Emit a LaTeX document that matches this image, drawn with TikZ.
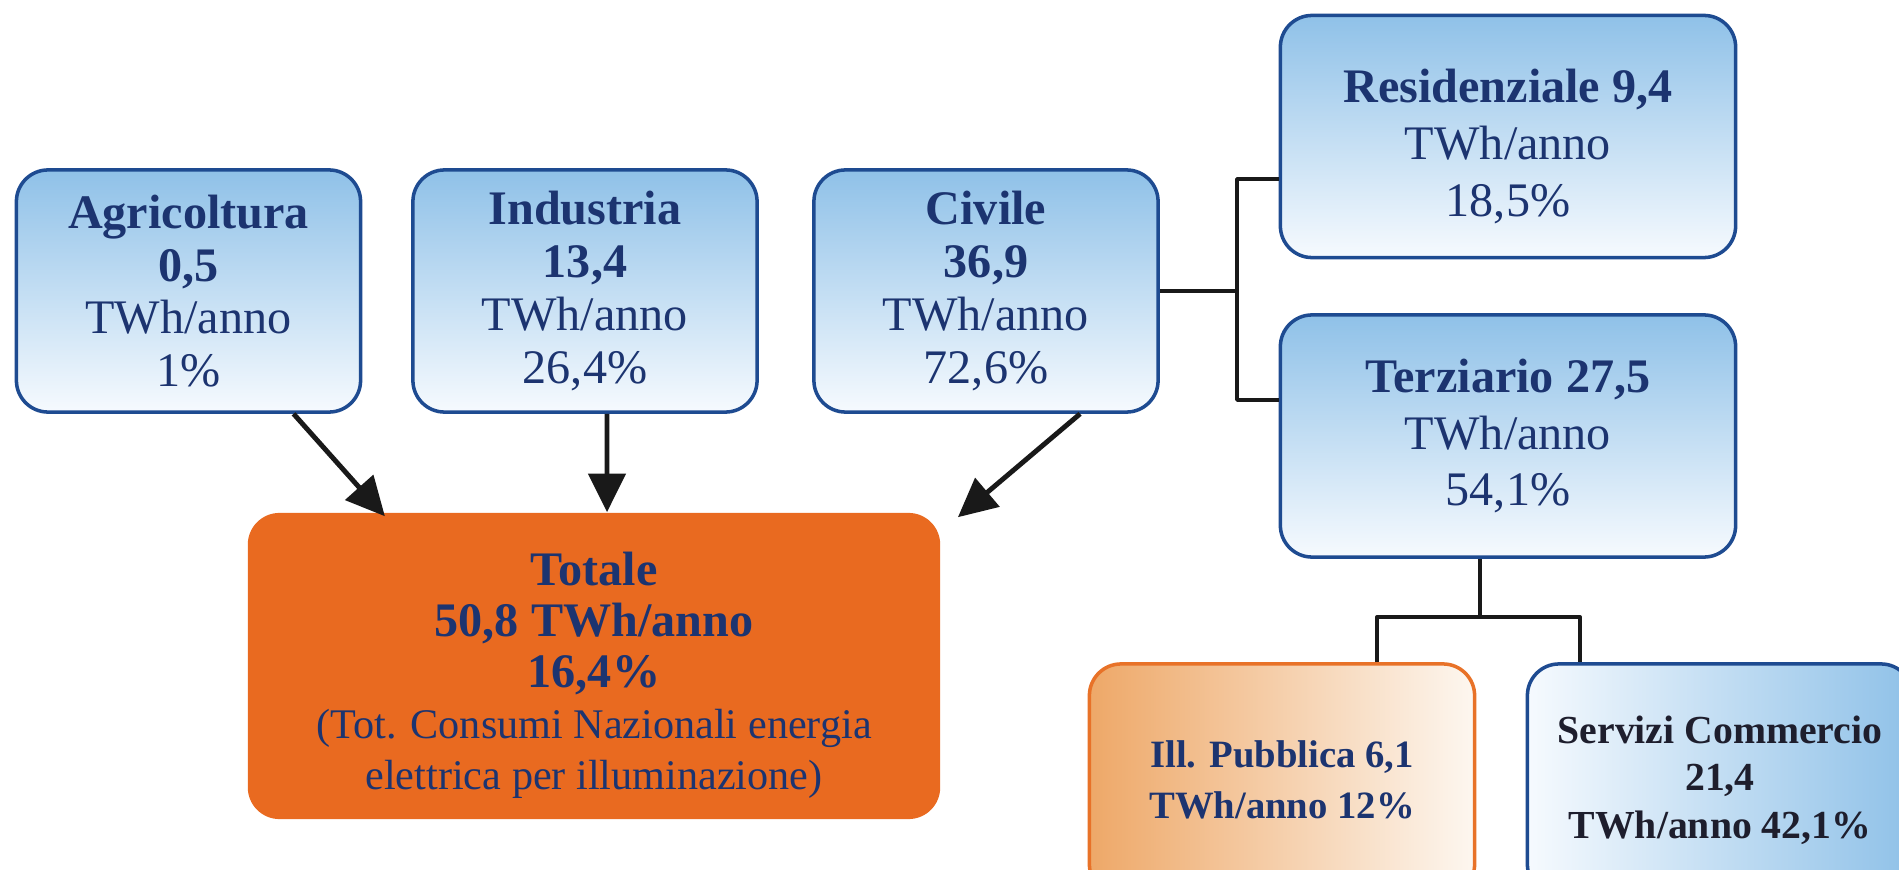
\documentclass[tikz,border=0pt]{standalone}
\usepackage{fontspec}
\setmainfont{Liberation Serif}
\usetikzlibrary{arrows.meta}
\definecolor{navy}{RGB}{28,52,112}
\definecolor{boxline}{RGB}{30,75,145}
\definecolor{skyblue}{RGB}{143,193,232}
\definecolor{paleblue}{RGB}{246,250,254}
\definecolor{totorange}{RGB}{233,106,32}
\definecolor{lightorange}{RGB}{238,168,104}
\definecolor{paleorange}{RGB}{253,247,240}
\definecolor{orangeline}{RGB}{232,114,40}
\definecolor{inkdark}{RGB}{30,30,45}
\begin{document}
\begin{tikzpicture}[x=0.01cm, y=-0.01cm, line join=round, >={Triangle[length=11pt,width=10.5pt]},
	sector/.style={draw=boxline, line width=1pt, rounded corners=9pt, top color=skyblue, bottom color=paleblue, text=navy, align=center, minimum width=3.44cm, minimum height=2.42cm, font=\fontsize{13.7}{15}\selectfont},
	subsector/.style={sector, minimum width=4.55cm, font=\fontsize{13.7}{16.2}\selectfont},
	link/.style={draw=black!90, line width=1pt},
	feed/.style={draw=black!90, line width=1.4pt, ->}]
	\useasboundingbox (0,0) rectangle (1899,870);
	\node[sector] (agri) at (188.5,291) {\textbf{Agricoltura}\\\textbf{0,5}\\TWh/anno\\1\%};
	\node[sector] (ind) at (585,291) {\textbf{Industria}\\\textbf{13,4}\\TWh/anno\\26,4\%};
	\node[sector] (civ) at (986,291) {\textbf{Civile}\\\textbf{36,9}\\TWh/anno\\72,6\%};
	\node[subsector] (res) at (1508,136.5) {\rule{0pt}{15pt}\textbf{Residenziale 9,4}\\TWh/anno\\18,5\%};
	\node[subsector] (ter) at (1508,436) {\textbf{Terziario 27,5}\\TWh/anno\\54,1\%};
	\node[fill=totorange, rounded corners=9pt, text=navy, align=center, minimum width=6.92cm, minimum height=3.06cm, font=\fontsize{13.7}{14.5}\selectfont] (tot) at (594,666)
		{\rule{0pt}{15pt}\textbf{Totale}\\\textbf{50,8 TWh/anno}\\\textbf{16,4\%}\\{\fontsize{12}{14.5}\selectfont(Tot. Consumi Nazionali energia}\\{\fontsize{12}{14.5}\selectfont elettrica per illuminazione)}};
	\node[draw=orangeline, line width=1pt, rounded corners=9pt, left color=lightorange, right color=paleorange, text=navy, align=center, minimum width=3.85cm, minimum height=2.32cm, font=\bfseries\fontsize{11}{14.5}\selectfont] (ill) at (1282,780) {Ill. Pubblica 6,1\\TWh/anno 12\%};
	\node[draw=boxline, line width=1pt, rounded corners=9pt, left color=paleblue, right color=skyblue, text=inkdark, align=center, minimum width=3.85cm, minimum height=2.32cm, font=\bfseries\fontsize{11.3}{13.5}\selectfont] (serv) at (1720,780) {Servizi Commercio\\21,4\\TWh/anno 42,1\%};
	% rami del civile
	\coordinate (split) at ([xshift=0.77cm]civ.east);
	\draw[link] (civ.east) -- (split);
	\draw[link] ([yshift=-0.425cm]res.west) -| (split) |- ([yshift=0.36cm]ter.west);
	% rami del terziario
	\coordinate (split2) at ([shift={(-0.28cm,-0.58cm)}]ter.south);
	\draw[link] ([xshift=-0.28cm]ter.south) -- (split2);
	\draw[link] ([xshift=0.95cm]ill.north) |- (split2) -| ([xshift=-1.4cm]serv.north);
	% verso il totale
	\draw[feed] ([xshift=1.05cm]agri.south) -- ([shift={(-2.09cm,-0.04cm)}]tot.north);
	\draw[feed] ([xshift=0.22cm]ind.south) -- ([xshift=0.13cm]tot.north);
	\draw[feed] ([xshift=0.94cm]civ.south) -- ([shift={(0.17cm,-0.05cm)}]tot.north east);
\end{tikzpicture}
\end{document}
